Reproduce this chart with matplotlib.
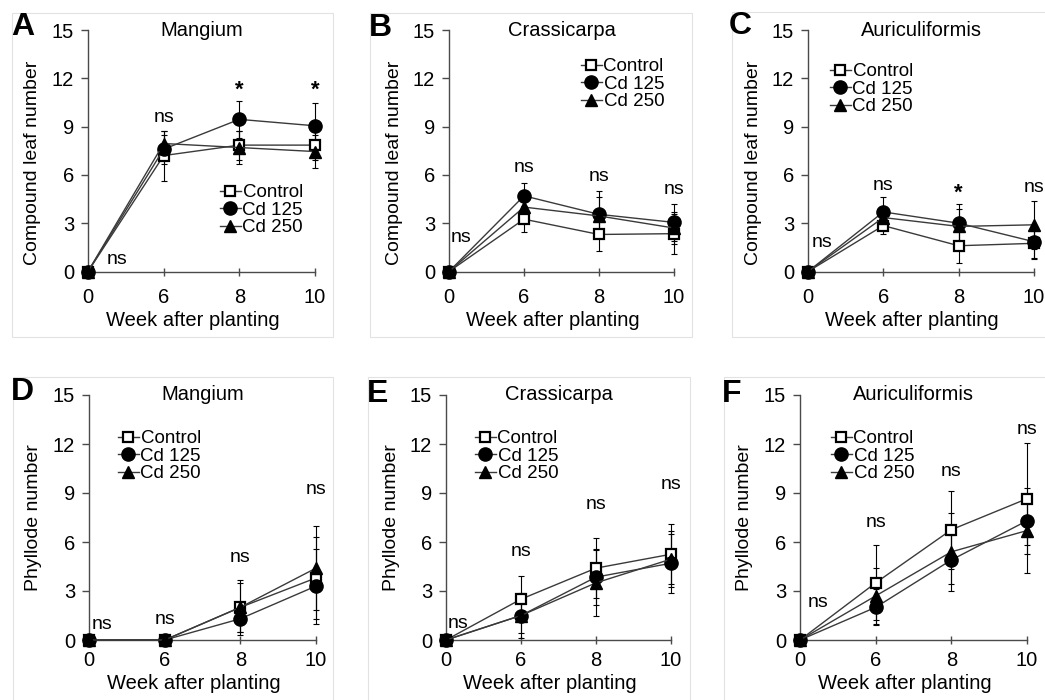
import matplotlib.pyplot as plt
from matplotlib.patches import Rectangle

plt.rcParams['font.family'] = ['Liberation Sans', 'DejaVu Sans']

weeks = ['0', '6', '8', '10']
series = ['Control', 'Cd 125', 'Cd 250']

# compound leaf number (rows: Control, Cd 125, Cd 250)
mang_leaf = [[0, 7.2, 7.85, 7.85], [0, 7.6, 9.45, 9.05], [0, 7.95, 7.7, 7.45]]
mang_leaf_err = [[0, 1.55, 0.9, 0.9], [0, 0.9, 1.15, 1.4], [0, 0.8, 1.0, 1.0]]
crass_leaf = [[0, 3.25, 2.3, 2.35], [0, 4.7, 3.55, 3.05], [0, 4.0, 3.45, 2.7]]
crass_leaf_err = [[0, 0.8, 1.0, 1.25], [0, 0.8, 1.45, 1.15], [0, 0.6, 1.2, 1.0]]
auric_leaf = [[0, 2.85, 1.6, 1.75], [0, 3.7, 3.0, 1.85], [0, 3.35, 2.8, 2.9]]
auric_leaf_err = [[0, 0.5, 1.05, 1.0], [0, 0.9, 1.2, 1.0], [0, 0.6, 1.1, 1.5]]

# phyllode number
mang_phyl = [[0, 0, 2.0, 3.8], [0, 0, 1.3, 3.3], [0, 0, 2.0, 4.4]]
mang_phyl_err = [[0, 0, 1.5, 2.5], [0, 0, 0.8, 2.3], [0, 0, 1.7, 2.55]]
crass_phyl = [[0, 2.5, 4.4, 5.25], [0, 1.5, 3.85, 4.7], [0, 1.5, 3.5, 4.95]]
crass_phyl_err = [[0, 1.4, 1.85, 1.85], [0, 1.35, 1.7, 1.8], [0, 1.1, 2.0, 1.7]]
auric_phyl = [[0, 3.5, 6.75, 8.65], [0, 2.0, 4.9, 7.3], [0, 2.7, 5.4, 6.7]]
auric_phyl_err = [[0, 2.3, 2.4, 3.4], [0, 1.1, 1.5, 1.5], [0, 1.7, 2.4, 2.6]]

# significance labels and their heights (baseline)
mang_leaf_sig = ['ns', 'ns', '*', '*']
mang_leaf_sig_y = [0.45, 9.3, 10.9, 10.9]
crass_leaf_sig = ['ns', 'ns', 'ns', 'ns']
crass_leaf_sig_y = [1.85, 6.15, 5.6, 4.8]
auric_leaf_sig = ['ns', 'ns', '*', 'ns']
auric_leaf_sig_y = [1.5, 5.05, 4.5, 4.95]
mang_phyl_sig = ['ns', 'ns', 'ns', 'ns']
mang_phyl_sig_y = [0.65, 0.95, 4.75, 8.95]
crass_phyl_sig = ['ns', 'ns', 'ns', 'ns']
crass_phyl_sig_y = [0.75, 5.15, 8.05, 9.25]
auric_phyl_sig = ['ns', 'ns', 'ns', 'ns']
auric_phyl_sig_y = [2.05, 6.9, 10.05, 12.6]

W, H = 1045, 700
fig = plt.figure(figsize=(10.45, 7), dpi=100)

# panel frames (pixels: left, top, right, bottom)
frames = [(12, 13, 333, 337), (370, 13, 692, 337), (732, 12, 1050, 337),
          (13, 377, 333, 705), (368, 377, 690, 705), (724, 377, 1050, 705)]
for l, t, r, b in frames:
    fig.patches.append(Rectangle((l / W, 1 - b / H), (r - l) / W, (b - t) / H,
                                 transform=fig.transFigure, fill=False,
                                 edgecolor='#e2e2e2', lw=0.8, zorder=0))

panels = [
    ('A', 'Mangium', 'Compound leaf number', mang_leaf, mang_leaf_err, mang_leaf_sig, mang_leaf_sig_y),
    ('B', 'Crassicarpa', 'Compound leaf number', crass_leaf, crass_leaf_err, crass_leaf_sig, crass_leaf_sig_y),
    ('C', 'Auriculiformis', 'Compound leaf number', auric_leaf, auric_leaf_err, auric_leaf_sig, auric_leaf_sig_y),
    ('D', 'Mangium', 'Phyllode number', mang_phyl, mang_phyl_err, mang_phyl_sig, mang_phyl_sig_y),
    ('E', 'Crassicarpa', 'Phyllode number', crass_phyl, crass_phyl_err, crass_phyl_sig, crass_phyl_sig_y),
    ('F', 'Auriculiformis', 'Phyllode number', auric_phyl, auric_phyl_err, auric_phyl_sig, auric_phyl_sig_y),
]

# axes boxes in pixels: x of y-axis, x of last category, y of 15, y of 0
boxes = [(88, 315, 30, 271.5), (449, 674, 30, 271.5), (808, 1034, 30, 271.5),
         (89, 316, 395, 640), (446, 671, 395, 640), (800, 1027, 395, 640)]
letter_pos = [(11, 12), (369, 13), (729, 11), (11, 377), (367, 379), (722, 379)]
zero_dx = [0.38, 0.16, 0.19, 0.17, 0.16, 0.24]
legend_pos = [(220, 184), (581, 58), (830, 63), (118, 430), (475, 430), (831, 430)]

markers = ['s', 'o', '^']
mfaces = ['white', 'black', 'black']
msizes = [7.5, 9.5, 8.5]
axis_col = '#4a4a4a'
fs = 14.5

for i, (let, title, ylab, means, errs, sig, sig_y) in enumerate(panels):
    x0, x1, ytop, ybot = boxes[i]
    ax = fig.add_axes([x0 / W, 1 - ybot / H, (x1 - x0) / W, (ybot - ytop) / H])
    xs = list(range(len(weeks)))
    handles = []
    for s in range(3):
        ax.errorbar(xs, means[s], yerr=errs[s], fmt='none', ecolor='black',
                    elinewidth=0.8, capsize=2.2, capthick=0.8, zorder=3, clip_on=False)
        h, = ax.plot(xs, means[s], color='#3a3a3a', lw=1.0, marker=markers[s],
                     markersize=msizes[s], markerfacecolor=mfaces[s],
                     markeredgecolor='black', markeredgewidth=1.6 if s == 0 else 1.0,
                     zorder=4 + s, clip_on=False, label=series[s])
        handles.append(h)
    ax.set_xlim(0, 3)
    ax.set_ylim(0, 15)
    ax.set_xticks(xs)
    ax.set_xticklabels(weeks)
    ax.set_yticks([0, 3, 6, 9, 12, 15])
    for sp in ['top', 'right']:
        ax.spines[sp].set_visible(False)
    for sp in ['left', 'bottom']:
        ax.spines[sp].set_color(axis_col)
        ax.spines[sp].set_linewidth(1.0)
    ax.tick_params(axis='y', direction='out', length=5, width=1.0, color=axis_col,
                   labelsize=fs, pad=5)
    ax.tick_params(axis='x', direction='inout', length=6, width=1.0, color=axis_col,
                   labelsize=fs, pad=9 if i < 3 else 5)
    ax.patch.set_alpha(0)
    ax.set_xlabel('Week after planting', fontsize=fs, labelpad=3)
    ax.xaxis.label.set_x(0.46)
    ax.set_ylabel(ylab, fontsize=fs - 0.5)
    ax.yaxis.set_label_coords(-0.205, 0.45 if i < 3 else 0.5)
    ax.text(0.5, 1.0, title, transform=ax.transAxes, ha='center', va='center', fontsize=fs)
    for k, (lab, yy) in enumerate(zip(sig, sig_y)):
        xx = k + (zero_dx[i] if k == 0 else 0)
        ax.text(xx, yy, lab, ha='center', va='baseline',
                fontsize=16 if lab == '*' else fs - 0.5,
                fontweight='bold' if lab == '*' else 'normal', clip_on=False)
    lx, ly = legend_pos[i]
    fig.legend(handles=handles, loc='upper left', bbox_to_anchor=(lx / W, 1 - ly / H),
               frameon=False, fontsize=13.5, handlelength=1.1, handletextpad=0.1,
               labelspacing=0.02, borderpad=0, borderaxespad=0)
    lx2, ly2 = letter_pos[i]
    fig.text(lx2 / W, 1 - ly2 / H, let, ha='left', va='top', fontsize=23, fontweight='bold')

fig.savefig('out.png', dpi=100)
